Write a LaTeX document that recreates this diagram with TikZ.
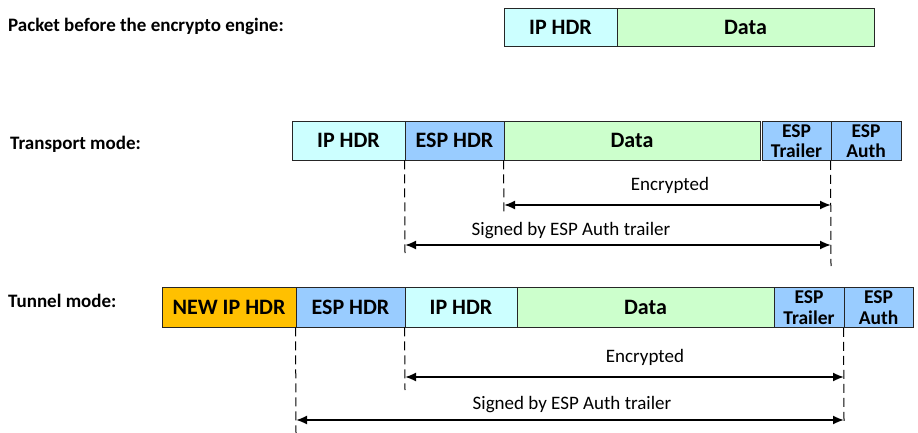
\documentclass[tikz,border=0pt]{standalone}
\usepackage{fontspec}
\setmainfont{Carlito}
\usetikzlibrary{arrows.meta}
\definecolor{ipc}{HTML}{CCFFFF}
\definecolor{datac}{HTML}{CCFFCC}
\definecolor{espc}{HTML}{99CCFF}
\definecolor{newc}{HTML}{FFC000}
\tikzset{
  box/.style={draw=black!85, line width=0.9pt, inner sep=0pt, font=\bfseries\fontsize{22}{24}\selectfont, anchor=center},
  sbox/.style={box, font=\bfseries\fontsize{19.5}{20.5}\selectfont, align=center},
  lbl/.style={font=\bfseries\fontsize{19}{20}\selectfont, anchor=west, inner sep=0pt},
  txt/.style={font=\fontsize{19}{20}\selectfont, inner sep=0pt},
  vline/.style={dash pattern=on 9pt off 5pt, line width=1pt, black},
  arr/.style={{Latex[length=11pt,width=9pt]}-{Latex[length=11pt,width=9pt]}, line width=1.8pt}
}
\begin{document}
\begin{tikzpicture}[x=1pt,y=-1pt]
\useasboundingbox[fill=white] (0,0) rectangle (918,433);
% labels
\node[lbl] (l1) at (8,26) {Packet before the encrypto engine:};
\node[lbl] (l2) at (10,144) {Transport mode:};
\node[lbl] (l3) at (8,301) {Tunnel mode:};
% top packet
\node[box, fill=ipc, minimum width=113pt, minimum height=38pt] (p1) at (560.5,27) {IP HDR};
\node[box, fill=datac, minimum width=257pt, minimum height=38pt] (p2) at (745.5,27) {Data};
% transport
\node[box, fill=ipc, minimum width=113pt, minimum height=39pt] (t1) at (348.5,140.5) {IP HDR};
\node[box, fill=espc, minimum width=99pt, minimum height=39pt] (t2) at (454.5,140.5) {ESP HDR};
\node[box, fill=datac, minimum width=256pt, minimum height=39pt] (t3) at (632,140.5) {Data};
\node[sbox, fill=espc, minimum width=69pt, minimum height=39pt] (t4) at (796.5,141) {ESP\\Trailer};
\node[sbox, fill=espc, minimum width=70pt, minimum height=39pt] (t5) at (866,141) {ESP\\Auth};
\coordinate (td1) at (405,253);
\coordinate (td2) at (504,215);
\coordinate (td3) at (831,266);
\draw[vline] (t2.south west) -- (td1);
\draw[vline] (t3.south west) -- (td2);
\draw[vline] (t5.south west) -- (td3);
\coordinate (te1) at (504,205);
\coordinate (te2) at (831,205);
\coordinate (ts1) at (405,245);
\coordinate (ts2) at (831,245);
\draw[arr] (te1) -- (te2);
\draw[arr] (ts1) -- (ts2);
\node[txt] (tenc) at (670,185) {Encrypted};
\node[txt] (tsig) at (571,231) {Signed by ESP Auth trailer};
% tunnel
\node[box, fill=newc, minimum width=134pt, minimum height=40pt] (u1) at (229,307) {NEW IP HDR};
\node[box, fill=espc, minimum width=109pt, minimum height=40pt] (u2) at (350.5,307) {ESP HDR};
\node[box, fill=ipc, minimum width=112pt, minimum height=40pt] (u3) at (461,307) {IP HDR};
\node[box, fill=datac, minimum width=257pt, minimum height=40pt] (u4) at (645.5,307) {Data};
\node[sbox, fill=espc, minimum width=70pt, minimum height=40pt] (u5) at (809,307.5) {ESP\\Trailer};
\node[sbox, fill=espc, minimum width=69pt, minimum height=40pt] (u6) at (878.5,307.5) {ESP\\Auth};
\coordinate (ud1) at (296,433);
\coordinate (ud2) at (405,390);
\coordinate (ud3) at (844,421);
\draw[vline] (u2.south west) -- (ud1);
\draw[vline] (u3.south west) -- (ud2);
\draw[vline] (u6.south west) -- (ud3);
\coordinate (ue1) at (405,377);
\coordinate (ue2) at (844,377);
\coordinate (us1) at (296,420);
\coordinate (us2) at (844,420);
\draw[arr] (ue1) -- (ue2);
\draw[arr] (us1) -- (us2);
\node[txt] (uenc) at (645,357) {Encrypted};
\node[txt] (usig) at (572,405) {Signed by ESP Auth trailer};
\end{tikzpicture}
\end{document}
